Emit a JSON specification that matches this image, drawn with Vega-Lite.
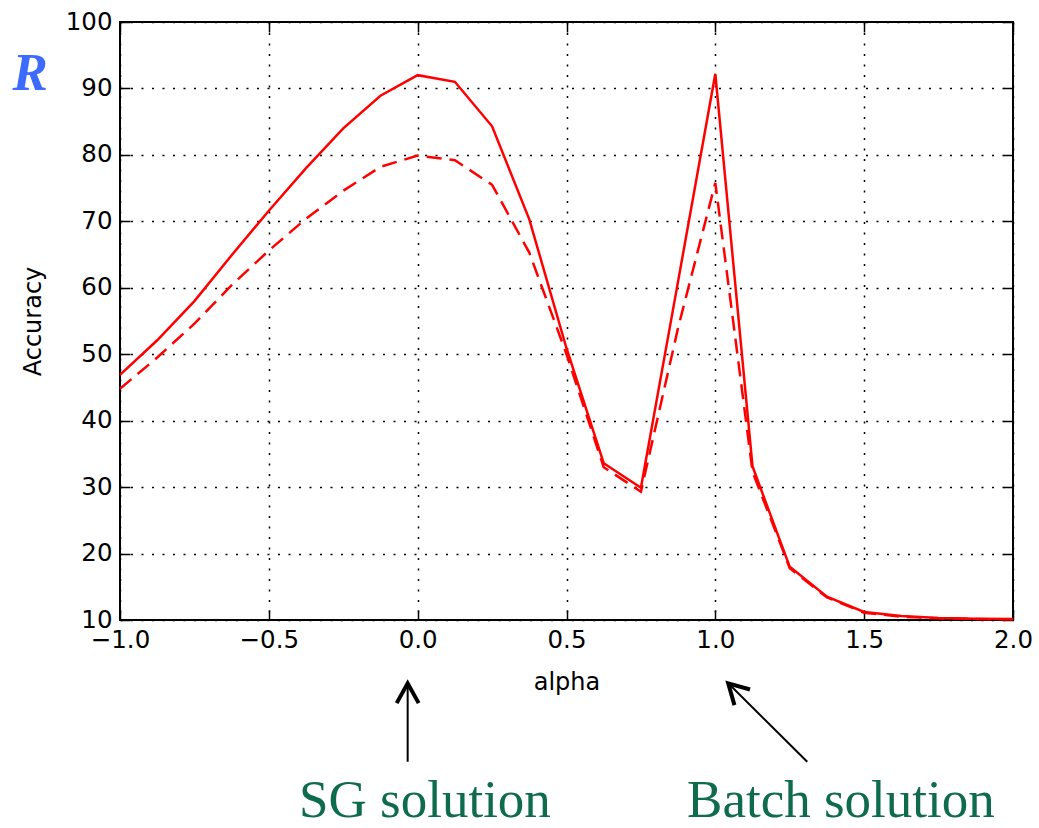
{
  "$schema": "https://vega.github.io/schema/vega-lite/v6.json",
  "width": 893,
  "height": 598,
  "autosize": "none",
  "padding": {"left": 120, "top": 22, "right": 26, "bottom": 208},
  "background": "white",
  "datasets": {
    "curves": [
      {"alpha": -1.0, "solid": 46.9, "dashed": 44.8},
      {"alpha": -0.875, "solid": 52.1, "dashed": 49.5},
      {"alpha": -0.75, "solid": 58.0, "dashed": 54.6},
      {"alpha": -0.625, "solid": 64.9, "dashed": 60.4},
      {"alpha": -0.5, "solid": 71.6, "dashed": 65.6},
      {"alpha": -0.375, "solid": 78.0, "dashed": 70.4},
      {"alpha": -0.25, "solid": 84.0, "dashed": 74.6},
      {"alpha": -0.125, "solid": 88.9, "dashed": 78.2},
      {"alpha": 0.0, "solid": 92.0, "dashed": 79.9},
      {"alpha": 0.125, "solid": 91.0, "dashed": 79.2},
      {"alpha": 0.25, "solid": 84.3, "dashed": 75.5},
      {"alpha": 0.375, "solid": 70.3, "dashed": 65.3},
      {"alpha": 0.5, "solid": 50.9, "dashed": 50.0},
      {"alpha": 0.625, "solid": 33.6, "dashed": 33.0},
      {"alpha": 0.75, "solid": 29.9, "dashed": 29.3},
      {"alpha": 0.875, "solid": 61.0, "dashed": 54.0},
      {"alpha": 1.0, "solid": 92.2, "dashed": 75.8},
      {"alpha": 1.125, "solid": 33.1, "dashed": 32.3},
      {"alpha": 1.25, "solid": 18.0, "dashed": 17.8},
      {"alpha": 1.375, "solid": 13.5, "dashed": 13.4},
      {"alpha": 1.5, "solid": 11.2, "dashed": 11.1},
      {"alpha": 1.625, "solid": 10.6, "dashed": 10.5},
      {"alpha": 1.75, "solid": 10.3, "dashed": 10.25},
      {"alpha": 1.875, "solid": 10.2, "dashed": 10.15},
      {"alpha": 2.0, "solid": 10.15, "dashed": 10.1}
    ],
    "arrows": [
      {"name": "SG", "x": -0.0336, "y": 0.47, "x2": -0.0336, "y2": -11.33},
      {"name": "Batch", "x": 1.0433, "y": 0.47, "x2": 1.3087, "y2": -11.33}
    ],
    "labels": [
      {"name": "SG", "x": 0.0245, "y": -19.65, "text": "SG solution"},
      {"name": "Batch", "x": 1.422, "y": -19.65, "text": "Batch solution"}
    ],
    "logo": [
      {"x": -1.302, "y": 89.8, "text": "R"}
    ]
  },
  "resolve": {"axis": {"x": "independent", "y": "independent"}},
  "layer": [
    {
      "data": {"name": "curves"},
      "mark": {"type": "line", "color": "#ff0000", "strokeWidth": 2.5},
      "encoding": {
        "x": {
          "field": "alpha", "type": "quantitative",
          "scale": {"domain": [-1, 2], "nice": false, "zero": false},
          "axis": {
            "orient": "bottom", "title": "alpha",
            "values": [-1, -0.5, 0, 0.5, 1, 1.5, 2], "format": ".1f",
            "labelFont": "DejaVu Sans", "labelFontSize": 24.5, "labelColor": "black",
            "labelFlush": false, "labelOverlap": false,
            "tickSize": -10, "tickColor": "black", "tickWidth": 1.5,
            "labelPadding": 18,
            "domain": false,
            "grid": true, "gridColor": "black", "gridDash": [2, 8.5], "gridWidth": 1.5, "gridOpacity": 1,
            "titleFont": "DejaVu Sans", "titleFontSize": 24, "titleFontWeight": "normal", "titleColor": "black",
            "titlePadding": 19
          }
        },
        "y": {
          "field": "solid", "type": "quantitative",
          "scale": {"domain": [10, 100], "nice": false, "zero": false},
          "axis": {
            "orient": "left", "title": "Accuracy",
            "values": [10, 20, 30, 40, 50, 60, 70, 80, 90, 100], "format": "d",
            "labelFont": "DejaVu Sans", "labelFontSize": 24.5, "labelColor": "black",
            "labelFlush": false, "labelOverlap": false,
            "tickSize": -10, "tickColor": "black", "tickWidth": 1.5,
            "labelPadding": 18,
            "domain": false,
            "grid": true, "gridColor": "black", "gridDash": [2, 8.5], "gridWidth": 1.5, "gridOpacity": 1,
            "titleFont": "DejaVu Sans", "titleFontSize": 24, "titleFontWeight": "normal", "titleColor": "black",
            "titlePadding": 20
          }
        }
      }
    },
    {
      "data": {"name": "curves"},
      "mark": {"type": "line", "color": "#ff0000", "strokeWidth": 2.5, "strokeDash": [15, 8]},
      "encoding": {
        "x": {
          "field": "alpha", "type": "quantitative",
          "axis": {
            "orient": "top", "title": null, "labels": false,
            "values": [-1, -0.5, 0, 0.5, 1, 1.5, 2],
            "tickSize": -10, "tickColor": "black", "tickWidth": 1.5,
            "domain": false, "grid": false
          }
        },
        "y": {
          "field": "dashed", "type": "quantitative",
          "axis": {
            "orient": "right", "title": null, "labels": false,
            "values": [10, 20, 30, 40, 50, 60, 70, 80, 90, 100],
            "tickSize": -10, "tickColor": "black", "tickWidth": 1.5,
            "domain": false, "grid": false
          }
        }
      }
    },
    {
      "data": {"name": "arrows"},
      "mark": {"type": "rule", "color": "black", "strokeWidth": 2},
      "encoding": {
        "x": {"field": "x", "type": "quantitative", "axis": null},
        "y": {"field": "y", "type": "quantitative", "axis": null},
        "x2": {"field": "x2"},
        "y2": {"field": "y2"}
      }
    },
    {
      "data": {"name": "arrows"},
      "transform": [{"filter": "datum.name === 'SG'"}],
      "mark": {"type": "point", "shape": "M-0.5,0.9L0,0L0.5,0.9", "filled": false, "stroke": "black", "strokeWidth": 4, "size": 1936, "opacity": 1, "angle": 0},
      "encoding": {
        "x": {"field": "x", "type": "quantitative", "axis": null},
        "y": {"field": "y", "type": "quantitative", "axis": null}
      }
    },
    {
      "data": {"name": "arrows"},
      "transform": [{"filter": "datum.name === 'Batch'"}],
      "mark": {"type": "point", "shape": "M-0.5,0.9L0,0L0.5,0.9", "filled": false, "stroke": "black", "strokeWidth": 4, "size": 1936, "opacity": 1, "angle": -45},
      "encoding": {
        "x": {"field": "x", "type": "quantitative", "axis": null},
        "y": {"field": "y", "type": "quantitative", "axis": null}
      }
    },
    {
      "data": {"name": "labels"},
      "mark": {"type": "text", "font": "Liberation Serif", "fontSize": 53, "color": "#0f6b4d", "align": "center", "baseline": "alphabetic"},
      "encoding": {
        "x": {"field": "x", "type": "quantitative", "axis": null},
        "y": {"field": "y", "type": "quantitative", "axis": null},
        "text": {"field": "text"}
      }
    },
    {
      "data": {"name": "logo"},
      "mark": {"type": "text", "font": "Liberation Serif", "fontSize": 53, "fontWeight": "bold", "fontStyle": "italic", "color": "#3d6bff", "align": "center", "baseline": "alphabetic"},
      "encoding": {
        "x": {"field": "x", "type": "quantitative", "axis": null},
        "y": {"field": "y", "type": "quantitative", "axis": null},
        "text": {"field": "text"}
      }
    }
  ],
  "config": {
    "view": {"stroke": "black", "strokeWidth": 2}
  }
}
